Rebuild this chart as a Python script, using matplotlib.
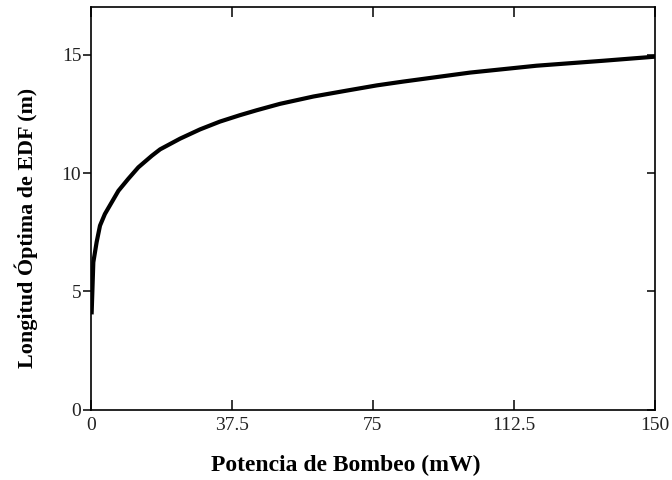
import matplotlib
matplotlib.use('Agg')
import matplotlib.pyplot as plt

# puntos (Potencia de bombeo mW, longitud optima m)
POTENCIA = [0.18, 0.62, 1.5, 2.4, 3.7, 5.5, 7.3, 9.9, 12.6, 16.2, 18.4, 23.7,
            29.0, 34.3, 39.6, 44.1, 50.3, 59.2, 68.1, 76.1, 83.1, 100.9,
            118.6, 136.4, 150.0]
LONGITUD = [4.12, 6.23, 7.08, 7.78, 8.27, 8.76, 9.25, 9.75, 10.24, 10.73, 11.0, 11.45,
            11.84, 12.17, 12.44, 12.65, 12.92, 13.23, 13.48, 13.7, 13.86, 14.24,
            14.53, 14.74, 14.91]
X_TICKS = [0, 37.5, 75, 112.5, 150]
X_LABELS = ['0', '37.5', '75', '112.5', '150']
Y_TICKS = [0, 5, 10, 15]

plt.rcParams['font.family'] = ['Liberation Serif', 'DejaVu Serif']

fig = plt.figure(figsize=(6.72, 4.8), dpi=100)
ax = fig.add_axes([0.1354, 0.146, 0.974 - 0.1354, 0.985 - 0.146])

ax.plot(POTENCIA, LONGITUD, color='black', lw=3.0, solid_joinstyle='round')

ax.set_xlim(0, 150)
ax.set_ylim(0, 17)
ax.set_xticks(X_TICKS)
ax.set_xticklabels(X_LABELS)
ax.set_yticks(Y_TICKS)
for s in ax.spines.values():
	s.set_linewidth(1.2)

ax.tick_params(axis='x', direction='in', length=7, width=1.1, pad=5, labelsize=14, labelcolor='#222222')
ax.tick_params(axis='y', direction='out', length=6, width=1.1, pad=1, labelsize=14, labelcolor='#222222')

# ticks hacia adentro arriba y a la derecha
top = ax.secondary_xaxis('top')
top.set_xticks(X_TICKS)
top.tick_params(direction='in', length=7, width=1.1, labeltop=False)
right = ax.secondary_yaxis('right')
right.set_yticks(Y_TICKS)
right.tick_params(direction='in', length=6, width=1.1, labelright=False)
for sec in (top, right):
	for s in sec.spines.values():
		s.set_visible(False)

fig.text(0.515, 0.031, 'Potencia de Bombeo (mW)', fontsize=17, fontweight='bold',
         ha='center', va='center')
fig.text(0.039, 0.525, 'Longitud Óptima de EDF (m)', fontsize=15.8, fontweight='bold',
         ha='center', va='center', rotation=90)

fig.savefig('out.png', dpi=100)
